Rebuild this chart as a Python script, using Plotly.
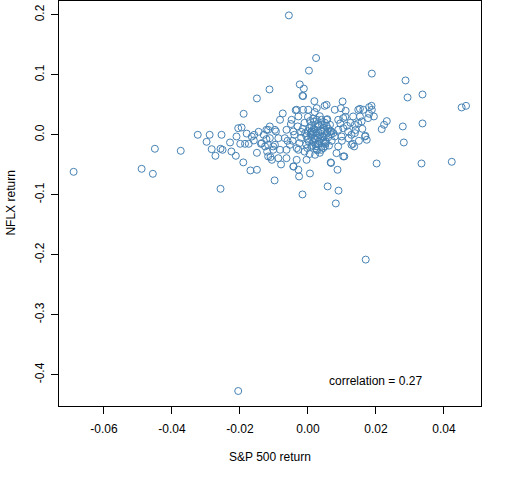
import plotly.graph_objects as go

# S&P 500 daily return vs NFLX daily return
sp500_ret = [
    -0.0689, -0.0489, -0.0456, -0.0450, -0.0374, -0.0324, -0.0289, -0.0254, -0.0298, -0.0283,
    -0.0272, -0.0257, -0.0251, -0.0257, -0.0229, -0.0225, -0.0212, -0.0210, -0.0205, -0.0195,
    -0.0189, -0.0190, -0.0199, -0.0185, -0.0174, -0.0169, -0.0150, -0.0158, -0.0159, -0.0150,
    -0.0113, -0.0098, -0.0138, -0.0126, -0.0117, -0.0112, -0.0094, -0.0122, -0.0110, -0.0106,
    -0.0102, -0.0205,
    -0.0056, 0.0024, 0.0003, 0.0188, 0.0287, -0.0024, -0.0012, -0.0016, 0.0293, 0.0337,
    0.0452, 0.0465, 0.0337, 0.0279, 0.0282, 0.0334, 0.0423, 0.0202, 0.0087, 0.0006,
    -0.0026, 0.0058, 0.0090, -0.0016, 0.0082, -0.0042, 0.0067, 0.0107, 0.0217, 0.0224,
    0.0232, 0.0169, 0.0173, 0.0187, 0.0194, 0.0188, 0.0102, 0.0049, 0.0019, -0.0036,
    -0.0074, -0.0079, 0.0132, 0.0136, 0.0153, 0.0163, 0.0180, 0.0170,
    -0.0014, -0.0033, -0.0014, 0.0001, 0.0026, -0.0028, -0.0082, -0.0048, 0.0026, -0.0122,
    -0.0097, -0.0063, -0.0043, -0.0112, -0.0087, -0.0136, -0.0117, -0.0097, -0.0068, -0.0053,
    -0.0033, -0.0102, -0.0082, -0.0063, -0.0117, -0.0087, -0.0063, -0.0028, -0.0033, -0.0004,
    0.0021, 0.0045, -0.0043, -0.0028,
    0.0079, 0.0097, 0.0111, 0.0148, 0.0177, 0.0133, 0.0153, 0.0158, 0.0089, 0.0104,
    0.0138, 0.0148, 0.0055, 0.0055, 0.0065, 0.0069, 0.0089, 0.0104, 0.0118, 0.0079,
    0.0099, 0.0128, 0.0138, 0.0168, 0.0050, 0.0089, 0.0084, 0.0128, 0.0104, 0.0068,
    0.0000, 0.0015, 0.0035, 0.0050, 0.0030, 0.0010, -0.0010, 0.0045, 0.0060, 0.0020,
    0.0000, -0.0015, 0.0040, 0.0025, 0.0055, 0.0010, -0.0005, 0.0035, 0.0060, 0.0020,
    0.0000, 0.0045, -0.0020, 0.0015, 0.0030, -0.0005, 0.0050, 0.0010, 0.0025, -0.0010,
    0.0005, 0.0035, -0.0020, 0.0065, 0.0070, -0.0030, 0.0040, -0.0045, -0.0040, 0.0015,
    0.0030, 0.0005, -0.0025, 0.0055, 0.0010, 0.0020, -0.0050, -0.0060, 0.0075, 0.0040,
    0.0115, 0.0125, 0.0160, 0.0180, 0.0110, 0.0140, 0.0095, 0.0120, 0.0150, 0.0100,
    -0.0145, -0.0165, -0.0130, -0.0180, -0.0120, -0.0150,
    0.0008, 0.0022, 0.0038, 0.0052, 0.0012, 0.0028, 0.0043, 0.0018, 0.0033, 0.0048,
    -0.0002, 0.0062, 0.0014, 0.0027, 0.0041, 0.0006, 0.0036, 0.0058, 0.0022, 0.0046,
    0.0011, 0.0031, 0.0053, -0.0008, 0.0024, 0.0068, 0.0017, 0.0039, 0.0003, 0.0057,
]
nflx_ret = [
    -0.0617, -0.0567, -0.0650, -0.0233, -0.0267, 0.0000, 0.0000, 0.0000, -0.0117, -0.0240,
    -0.0350, -0.0233, -0.0250, -0.0900, -0.0128, -0.0278, -0.0350, -0.0028, 0.0110, 0.0122,
    0.0350, -0.0460, -0.0150, -0.0150, -0.0150, -0.0594, -0.0583, 0.0000, -0.0094, 0.0606,
    0.0756, -0.0760, -0.0150, -0.0194, 0.0083, 0.0139, 0.0056, -0.0072, -0.0372, -0.0417,
    -0.0194, -0.4270,
    0.1990, 0.1280, 0.1070, 0.1020, 0.0906, 0.0840, 0.0770, 0.0650, 0.0622, 0.0672,
    0.0456, 0.0483, 0.0189, 0.0139, -0.0128, -0.0478, -0.0450, -0.0478, -0.0583, -0.0644,
    -0.0694, -0.0860, -0.0930, -0.0994, -0.1144, -0.0528, -0.0460, -0.0360, 0.0094, 0.0167,
    0.0228, -0.0017, -0.0083, 0.0483, 0.0306, 0.0417, 0.0556, 0.0483, 0.0560, 0.0410,
    0.0356, -0.0494, -0.0150, -0.0194, 0.0433, 0.0417, 0.0461, -0.2080,
    0.0645, 0.0417, 0.0417, 0.0417, 0.0444, 0.0306, 0.0250, 0.0250, 0.0250, 0.0083,
    0.0083, 0.0083, 0.0056, -0.0056, -0.0056, -0.0139, -0.0167, -0.0167, -0.0056, -0.0167,
    -0.0222, -0.0250, -0.0250, -0.0250, -0.0360, -0.0390, -0.0390, -0.0250, -0.0417, -0.0417,
    -0.0333, -0.0222, -0.0528, -0.0583,
    0.0417, 0.0444, 0.0400, 0.0417, 0.0278, 0.0306, 0.0306, 0.0222, 0.0250, 0.0278,
    0.0167, 0.0194, 0.0500, 0.0250, 0.0167, 0.0056, 0.0083, 0.0110, 0.0056, -0.0028,
    -0.0028, 0.0000, 0.0028, -0.0028, -0.0194, -0.0194, -0.0306, -0.0167, -0.0360, -0.0470,
    0.0300, 0.0270, 0.0310, 0.0200, 0.0180, 0.0150, 0.0200, 0.0120, 0.0100, 0.0090,
    0.0060, 0.0100, 0.0050, 0.0030, 0.0020, 0.0000, -0.0020, -0.0010, -0.0040, -0.0060,
    -0.0080, -0.0090, -0.0050, -0.0120, -0.0150, -0.0160, -0.0130, -0.0200, -0.0240, -0.0280,
    -0.0320, -0.0300, 0.0050, 0.0060, -0.0100, 0.0140, 0.0250, -0.0100, 0.0000, 0.0050,
    -0.0050, 0.0110, -0.0140, 0.0150, -0.0040, 0.0380, 0.0180, -0.0100, 0.0030, -0.0200,
    0.0150, 0.0200, 0.0100, 0.0350, 0.0300, 0.0080, 0.0190, -0.0060, -0.0100, -0.0100,
    0.0050, -0.0030, 0.0000, 0.0020, -0.0280, -0.0300,
    0.0040, -0.0070, 0.0070, -0.0150, -0.0180, 0.0130, -0.0030, 0.0220, -0.0110, 0.0080,
    -0.0220, -0.0180, 0.0020, -0.0260, 0.0170, 0.0230, -0.0070, 0.0050, -0.0160, -0.0040,
    0.0060, 0.0150, -0.0110, 0.0030, -0.0190, 0.0010, 0.0100, -0.0250, -0.0120, 0.0260,
]

x_ticks = [-0.06, -0.04, -0.02, 0.00, 0.02, 0.04]
x_tick_labels = ["-0.06", "-0.04", "-0.02", "0.00", "0.02", "0.04"]
y_ticks = [0.2, 0.1, 0.0, -0.1, -0.2, -0.3, -0.4]
y_tick_labels = ["0.2", "0.1", "0.0", "-0.1", "-0.2", "-0.3", "-0.4"]
corr_label = "correlation = 0.27"

fig = go.Figure(go.Scatter(
    x=sp500_ret, y=nflx_ret,
    mode="markers",
    marker=dict(symbol="circle-open", size=7, color="#4682B4", line=dict(width=1)),
    hoverinfo="x+y",
))

axis_style = dict(
    showline=True, mirror=True, linecolor="black", linewidth=1,
    ticks="outside", ticklen=7, tickwidth=1, tickcolor="black",
    showgrid=False, zeroline=False, automargin=False,
    tickfont=dict(family="Liberation Sans, Arial", size=12, color="black"),
)

fig.update_xaxes(axis_style, range=[-0.0732, 0.0509],
                 tickvals=x_ticks, ticktext=x_tick_labels, ticklabelstandoff=5)
fig.update_yaxes(axis_style, range=[-0.452, 0.223],
                 tickvals=y_ticks, ticktext=y_tick_labels, tickangle=-90,
                 ticklabelstandoff=2)

fig.add_annotation(x=0.0199, y=-0.411, text=corr_label, showarrow=False,
                   font=dict(size=12, color="black"))
fig.add_annotation(x=0.5, y=-0.126, xref="paper", yref="paper",
                   xanchor="center", yanchor="middle",
                   text="S&P 500 return", showarrow=False,
                   font=dict(size=12, color="black"))
fig.add_annotation(x=-0.116, y=0.5, xref="paper", yref="paper",
                   xanchor="center", yanchor="middle",
                   text="NFLX return", showarrow=False, textangle=-90,
                   font=dict(size=12, color="black"))

fig.update_layout(
    width=512, height=480,
    margin=dict(l=59, r=31, t=1, b=74),
    paper_bgcolor="white", plot_bgcolor="white",
    font=dict(family="Liberation Sans, Arial", size=12, color="black"),
    showlegend=False,
)

# drop the browser's default 8px body margin so the figure sits at (0, 0)
fig.write_html("out.html", config={"displayModeBar": False},
               post_script="document.body.style.margin = '0';")
